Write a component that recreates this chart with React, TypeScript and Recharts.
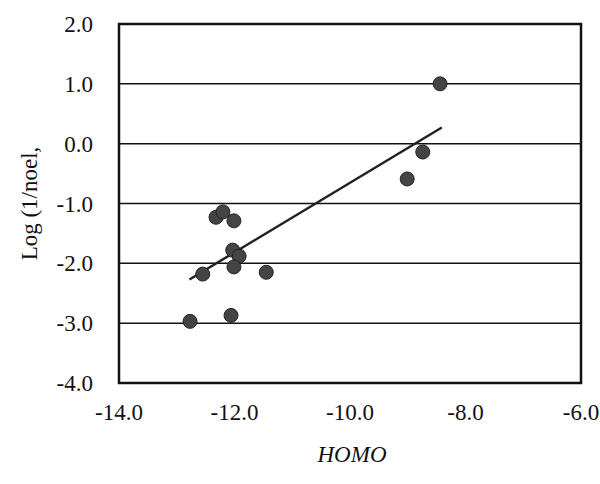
import React from "react";
import {
  ScatterChart,
  Scatter,
  XAxis,
  YAxis,
  CartesianGrid,
  ReferenceArea,
  Label,
} from "recharts";

// HOMO energy (x) vs Log(1/noel) (y)
const homo = [-8.44, -8.74, -9.01, -12.32, -12.2, -12.01, -12.03, -11.92, -12.01, -12.55, -11.45, -12.77, -12.06];
const logNoel = [1.0, -0.14, -0.59, -1.23, -1.14, -1.29, -1.78, -1.88, -2.06, -2.18, -2.15, -2.97, -2.87];

// fitted line end points
const trendX = [-12.78, -8.41];
const trendY = [-2.27, 0.27];

const xTicks = [-14, -12, -10, -8, -6];
const yTicks = [-4, -3, -2, -1, 0, 1, 2];

const points = homo.map((x, i) => ({ x, y: logNoel[i] }));
const trend = trendX.map((x, i) => ({ x, y: trendY[i] }));

const font = "'Liberation Serif', 'Times New Roman', serif";
const tickStyle = { fontFamily: font, fontSize: 23, fill: "#111" };

const Dot = (props: any) => {
  const { cx, cy } = props;
  if (cx == null || cy == null) return null;
  return <circle cx={cx} cy={cy} r={7} fill="#444" stroke="#222" strokeWidth={1} />;
};

export default function App() {
  return (
    <div style={{ position: "absolute", left: 0, top: 0, background: "#fff" }}>
      <ScatterChart
        width={600}
        height={484}
        margin={{ top: 24, right: 19, bottom: 0, left: 0 }}
      >
        <CartesianGrid vertical={false} stroke="#111" strokeWidth={1.5} horizontalValues={yTicks} />
        <XAxis
          type="number"
          dataKey="x"
          domain={[-14, -6]}
          ticks={xTicks}
          tickFormatter={(v: number) => v.toFixed(1)}
          tick={tickStyle}
          tickLine={false}
          axisLine={false}
          tickSize={0}
          tickMargin={21}
          height={101}
          allowDataOverflow
        >
          <Label
            content={({ viewBox }: any) => (
              <text
                x={viewBox.x + viewBox.width / 2 + 2}
                y={viewBox.y + 79}
                textAnchor="middle"
                fontFamily={font}
                fontStyle="italic"
                fontSize={23}
                fill="#111"
              >
                HOMO
              </text>
            )}
          />
        </XAxis>
        <YAxis
          type="number"
          dataKey="y"
          domain={[-4, 2]}
          ticks={yTicks}
          tickFormatter={(v: number) => v.toFixed(1)}
          tick={tickStyle}
          tickLine={false}
          axisLine={false}
          tickSize={0}
          tickMargin={26}
          width={119}
          allowDataOverflow
        >
          <Label
            content={({ viewBox }: any) => {
              const cx = 29;
              const cy = viewBox.y + viewBox.height / 2;
              return (
                <text
                  x={cx}
                  y={cy}
                  transform={`rotate(-90 ${cx} ${cy})`}
                  textAnchor="middle"
                  dominantBaseline="central"
                  fontFamily={font}
                  fontSize={23}
                  fill="#111"
                >
                  Log (1/noel,
                </text>
              );
            }}
          />
        </YAxis>
        <ReferenceArea
          x1={-14}
          x2={-6}
          y1={-4}
          y2={2}
          fill="none"
          stroke="#111"
          strokeWidth={2.5}
          fillOpacity={0}
          ifOverflow="visible"
        />
        <Scatter
          data={trend}
          line={{ stroke: "#222", strokeWidth: 2.5 }}
          shape={() => null}
          isAnimationActive={false}
        />
        <Scatter data={points} shape={Dot} isAnimationActive={false} />
      </ScatterChart>
    </div>
  );
}
